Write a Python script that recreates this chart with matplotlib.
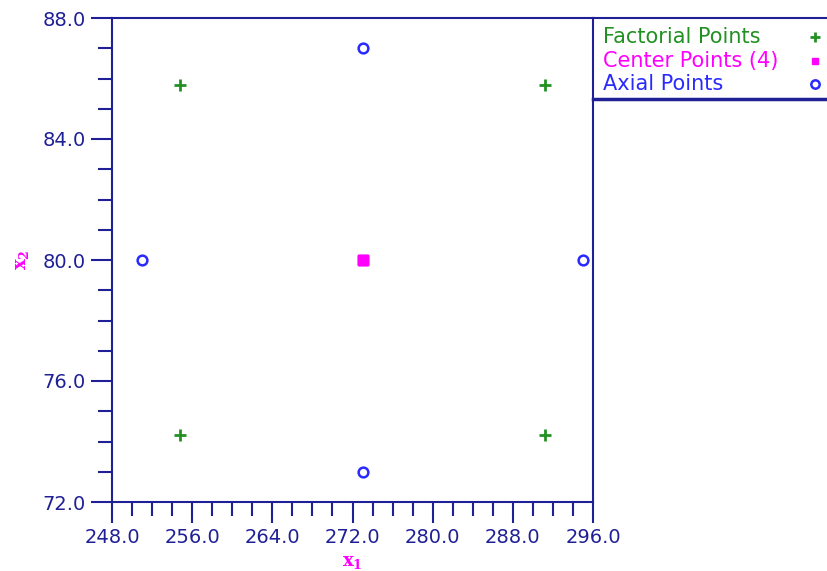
import matplotlib
matplotlib.use("Agg")
from matplotlib import pyplot as plt
from matplotlib.ticker import MultipleLocator
from matplotlib.lines import Line2D

# central composite design points
fact_x = [254.8, 254.8, 291.2, 291.2]
fact_y = [74.2, 85.8, 74.2, 85.8]
center_x = [273.0, 273.0, 273.0, 273.0]
center_y = [80.0, 80.0, 80.0, 80.0]
axial_x = [251.0, 295.0, 273.0, 273.0]
axial_y = [80.0, 80.0, 73.0, 87.0]

legend_labels = ["Factorial Points", "Center Points (4)", "Axial Points"]

navy = "#1f1f96"
green = "#229122"
magenta = "#ff00ff"
blue = "#2a2aff"

plt.rcParams["mathtext.fontset"] = "dejavuserif"

fig = plt.figure(figsize=(8.27, 5.71), dpi=100)
ax = fig.add_axes([112 / 827, 69 / 571, 481 / 827, 484 / 571])

ax.plot(fact_x, fact_y, "+", color=green, ms=8, mew=2)
ax.plot(center_x, center_y, "s", color=magenta, ms=7, mew=1)
ax.plot(axial_x, axial_y, "o", mfc="none", mec=blue, ms=7, mew=1.8)

ax.set_xlim(248, 296)
ax.set_ylim(72, 88)
ax.xaxis.set_major_locator(MultipleLocator(8))
ax.xaxis.set_minor_locator(MultipleLocator(2))
ax.yaxis.set_major_locator(MultipleLocator(4))
ax.yaxis.set_minor_locator(MultipleLocator(1))
ax.xaxis.set_major_formatter(lambda v, p: "%.1f" % v)
ax.yaxis.set_major_formatter(lambda v, p: "%.1f" % v)

for s in ax.spines.values():
    s.set_color(navy)
    s.set_linewidth(1.5)
ax.tick_params(which="both", direction="out", color=navy, width=1.5,
               labelcolor=navy, labelsize=14)
ax.tick_params(which="major", length=15, pad=4)
ax.tick_params(which="minor", length=10)

ax.set_xlabel(r"$\mathbf{x_1}$", color=magenta, fontsize=13, labelpad=4)
ax.set_ylabel(r"$\mathbf{x_2}$", color=magenta, fontsize=13, labelpad=8)

# legend box at the right
fig.add_artist(Line2D([593 / 827, 1], [1 - 18 / 571] * 2, color=navy, lw=1.5))
fig.add_artist(Line2D([593 / 827, 1], [1 - 99 / 571] * 2, color=navy, lw=2.5))
leg_colors = [green, magenta, blue]
leg_markers = [dict(marker="+", ms=7, mew=2, color=green),
               dict(marker="s", ms=5, color=magenta),
               dict(marker="o", ms=6, mfc="none", mec=blue, mew=1.8)]
for i, (lab, c, mk) in enumerate(zip(legend_labels, leg_colors, leg_markers)):
    yy = 1 - (37 + i * 23.5) / 571
    fig.text(603 / 827, yy, lab, color=c, fontsize=15, va="center", ha="left")
    fig.add_artist(Line2D([815 / 827], [yy], linestyle="none", **mk))

fig.savefig("out.png", dpi=100)
